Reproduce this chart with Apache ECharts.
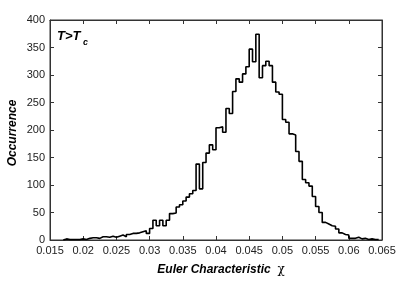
<!DOCTYPE html>
<html><head><meta charset="utf-8">
<script src="https://cdn.jsdelivr.net/npm/echarts@6/dist/echarts.min.js"></script>
<style>html,body{margin:0;padding:0;background:#fff}#c{width:403px;height:282px}</style>
</head><body><div id="c"></div>
<script>
// Histogram bins: left edge of first bin and bin width
const binStart = 0.017;
const binWidth = 0.0005;
// Occurrence counts per bin (from 0.017 to 0.0645)
const counts = [
  2, 1, 1, 1, 1, 2, 1, 3, 4, 4,
  3, 6, 6, 5, 7, 5, 7, 9, 6, 10,
  12, 12, 13, 15, 17, 12, 21, 36, 26, 36,
  26, 36, 48, 49, 60, 64, 71, 78, 84, 90,
  138, 93, 141, 158, 173, 164, 204, 206, 196, 239,
  230, 270, 293, 287, 302, 315, 347, 324, 374, 295,
  317, 325, 317, 287, 269, 265, 219, 214, 193, 191,
  161, 143, 110, 104, 98, 79, 61, 50, 32, 29,
  26, 25, 20, 13, 10, 9, 3, 3, 5, 2,
  3, 1, 2, 1, 1
];
const xMin = 0.015, xMax = 0.065, xStep = 0.005;
const yMin = 0, yMax = 400, yStep = 50;
const titleMain = 'T>T';
const titleSub = 'c';
const xName = 'Euler Characteristic';
const xSymbol = 'χ';
const yName = 'Occurrence';

const pts = [[binStart, 0]];
counts.forEach((c, i) => pts.push([+(binStart + i * binWidth).toFixed(5), c]));
pts.push([+(binStart + counts.length * binWidth).toFixed(5), 0]);

const FONT = 'Liberation Sans';
const axisCol = '#333';
const fmtX = v => String(+(+v).toFixed(3));

const chart = echarts.init(document.getElementById('c'), null, {renderer: 'canvas'});
const tickStyle = {show: true, inside: true, length: 4, lineStyle: {color: axisCol, width: 1}};
chart.setOption({
  animation: false,
  backgroundColor: '#fff',
  grid: {left: 50, right: 21, top: 20, bottom: 42, show: true, borderColor: axisCol, borderWidth: 1, backgroundColor: 'transparent'},
  xAxis: [
    {type: 'value', min: xMin, max: xMax, interval: xStep, position: 'bottom',
     axisLine: {show: true, onZero: false, lineStyle: {color: axisCol, width: 1}},
     axisTick: tickStyle, splitLine: {show: false},
     axisLabel: {formatter: fmtX, color: '#222', fontFamily: FONT, fontSize: 11, margin: 5}},
    {type: 'value', min: xMin, max: xMax, interval: xStep, position: 'top',
     axisLine: {show: true, onZero: false, lineStyle: {color: axisCol, width: 1}},
     axisTick: tickStyle, splitLine: {show: false}, axisLabel: {show: false}}
  ],
  yAxis: [
    {type: 'value', min: yMin, max: yMax, interval: yStep, position: 'left',
     axisLine: {show: true, onZero: false, lineStyle: {color: axisCol, width: 1}},
     axisTick: tickStyle, splitLine: {show: false},
     axisLabel: {color: '#222', fontFamily: FONT, fontSize: 11, margin: 5}},
    {type: 'value', min: yMin, max: yMax, interval: yStep, position: 'right',
     axisLine: {show: true, onZero: false, lineStyle: {color: axisCol, width: 1}},
     axisTick: tickStyle, splitLine: {show: false}, axisLabel: {show: false}}
  ],
  series: [{
    type: 'line', step: 'end', data: pts, showSymbol: false, symbol: 'none',
    xAxisIndex: 0, yAxisIndex: 0,
    lineStyle: {color: '#000', width: 1.6}, clip: true
  }],
  graphic: [
    {type: 'text', left: 57, top: 30, style: {text: titleMain, font: 'italic bold 13px "Liberation Sans"', fill: '#000'}},
    {type: 'text', left: 83, top: 38, style: {text: titleSub, font: 'italic bold 9px "Liberation Sans"', fill: '#000'}},
    {type: 'text', x: 13, y: 133, rotation: Math.PI / 2,
     style: {text: yName, font: 'italic bold 12px "Liberation Sans"', fill: '#000', align: 'center', verticalAlign: 'middle'}},
    {type: 'text', x: 221, y: 270,
     style: {text: '{a|' + xName + '}  {b|' + xSymbol + '}', align: 'center', verticalAlign: 'middle',
       rich: {a: {font: 'italic bold 12px "Liberation Sans"', fill: '#000'}, b: {font: '12px "DejaVu Serif"', fill: '#000'}}}}
  ]
});
</script>
</body></html>
